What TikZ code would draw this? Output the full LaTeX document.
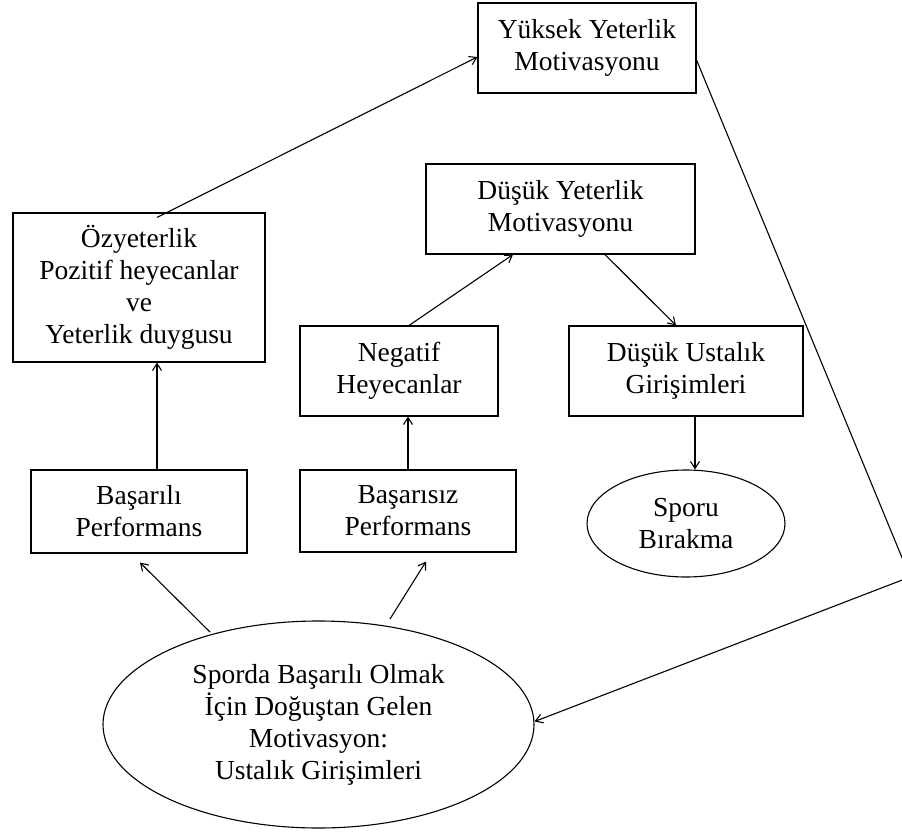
\documentclass[tikz,border=0pt]{standalone}
\usepackage{fontspec}
\setmainfont{Liberation Serif}
\usetikzlibrary{arrows.meta,shapes.geometric,calc}
\begin{document}
\begin{tikzpicture}[x=1pt,y=-1pt,
  txt/.style={align=center, inner sep=0pt, font=\fontsize{27.5}{32}\selectfont},
  box/.style={txt, draw, line width=1.1pt, rectangle},
  oval/.style={txt, draw, line width=1.1pt, ellipse},
  conn/.style={line width=1.1pt, -{Straight Barb[length=7pt,width=9pt]}}]
\useasboundingbox (0,0) rectangle (902,832);
\node[box, minimum width=218pt, minimum height=90pt] (yuksek) at (587,48) {Yüksek Yeterlik\\Motivasyonu};
\node[box, minimum width=252pt, minimum height=149pt] (ozy) at (139,287.5) {Özyeterlik\\Pozitif heyecanlar\\ve\\Yeterlik duygusu};
\node[box, minimum width=269pt, minimum height=90pt] (dusukyet) at (560.5,209) {Düşük Yeterlik\\Motivasyonu};
\node[box, minimum width=198pt, minimum height=90pt] (negatif) at (399,371) {Negatif\\Heyecanlar};
\node[box, minimum width=234pt, minimum height=90pt] (dusukust) at (686,371) {Düşük Ustalık\\Girişimleri};
\node[box, minimum width=216pt, minimum height=83pt] (basarili) at (139,511.5) {Başarılı\\Performans};
\node[box, minimum width=216pt, minimum height=82pt] (basarisiz) at (408,511) {Başarısız\\Performans};
\node[oval, minimum width=198pt, minimum height=107pt] (sporu) at (686,523.5) {Sporu\\Bırakma};
\node[oval, minimum width=431pt, minimum height=207pt] (big) at (318.5,724.5) {Sporda Başarılı Olmak\\İçin Doğuştan Gelen\\Motivasyon:\\Ustalık Girişimleri};
\coordinate (corner) at (910,577);
\draw[conn] ($(ozy.north)+(18,5)$) -- ($(yuksek.west)+(0,9)$);
\draw[conn] ($(basarili.north)+(18,0)$) -- ($(ozy.south)+(18,0)$);
\draw[conn] (basarisiz.north) -- ($(negatif.south)+(9,0)$);
\draw[conn] ($(negatif.north)+(10,0)$) -- ($(dusukyet.south)+(-47.5,0)$);
\draw[conn] ($(dusukyet.south)+(44.5,0)$) -- ($(dusukust.north)+(-10,0)$);
\draw[conn] ($(dusukust.south)+(9,0)$) -- ($(sporu.north)+(9,0)$);
\draw[conn] ($(big.center)+(-108.5,-92.5)$) -- ($(basarili.south)+(1,9)$);
\draw[conn] ($(big.center)+(71.5,-105.5)$) -- ($(basarisiz.south)+(18,9)$);
\draw[conn] ($(yuksek.east)+(0,12)$) -- (corner) -- ($(big.east)+(0,-3)$);
\end{tikzpicture}
\end{document}
